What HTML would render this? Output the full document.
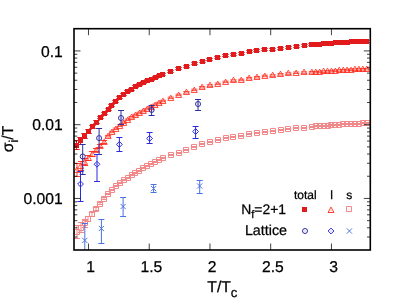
<!DOCTYPE html>
<html><head><meta charset="utf-8"><title>plot</title>
<style>html,body{margin:0;padding:0;background:#fff;}body{width:399px;height:302px;overflow:hidden;font-family:"Liberation Sans",sans-serif;}svg{display:block;text-rendering:geometricPrecision;will-change:transform;}</style>
</head><body>
<svg width="399" height="302" viewBox="0 0 399 302" font-family="'Liberation Sans', sans-serif" fill="#000">
<style>text{stroke:#000;stroke-width:0.25px;}</style>
<rect width="399" height="302" fill="#fff"/>
<defs><clipPath id="c"><rect x="74.0" y="28.7" width="296.3" height="221.3"/></clipPath></defs>
<g clip-path="url(#c)">
<path d="M73.30 140.50H79.70M73.30 149.50H79.70M76.50 140.50V149.50" stroke="#e31a1c" stroke-width="1.0" fill="none"/><rect x="74.00" y="143.00" width="5.0" height="5.0" fill="#e31a1c"/><path d="M77.30 137.50H83.70M77.30 144.50H83.70M80.50 137.50V144.50" stroke="#e31a1c" stroke-width="1.0" fill="none"/><rect x="78.00" y="138.00" width="5.0" height="5.0" fill="#e31a1c"/><path d="M81.30 133.50H87.70M81.30 138.50H87.70M84.50 133.50V138.50" stroke="#e31a1c" stroke-width="1.0" fill="none"/><rect x="82.00" y="134.00" width="5.0" height="5.0" fill="#e31a1c"/><path d="M85.30 129.50H91.70M85.30 133.50H91.70M88.50 129.50V133.50" stroke="#e31a1c" stroke-width="1.0" fill="none"/><rect x="86.00" y="129.00" width="5.0" height="5.0" fill="#e31a1c"/><path d="M89.30 125.50H95.70M89.30 128.50H95.70M92.50 125.50V128.50" stroke="#e31a1c" stroke-width="1.0" fill="none"/><rect x="90.00" y="124.00" width="5.0" height="5.0" fill="#e31a1c"/><path d="M93.30 120.50H99.70M93.30 123.50H99.70M96.50 120.50V123.50" stroke="#e31a1c" stroke-width="1.0" fill="none"/><rect x="94.00" y="120.00" width="5.0" height="5.0" fill="#e31a1c"/><path d="M97.30 116.50H103.70M97.30 118.50H103.70M100.50 116.50V118.50" stroke="#e31a1c" stroke-width="1.0" fill="none"/><rect x="98.00" y="115.00" width="5.0" height="5.0" fill="#e31a1c"/><path d="M101.30 112.50H107.70M101.30 114.50H107.70" stroke="#e31a1c" stroke-width="1.0" fill="none"/><rect x="102.00" y="111.00" width="5.0" height="5.0" fill="#e31a1c"/><path d="M105.30 108.50H111.70M105.30 110.50H111.70" stroke="#e31a1c" stroke-width="1.0" fill="none"/><rect x="106.00" y="107.00" width="5.0" height="5.0" fill="#e31a1c"/><path d="M108.30 104.50H114.70M108.30 106.50H114.70" stroke="#e31a1c" stroke-width="1.0" fill="none"/><rect x="109.00" y="103.00" width="5.0" height="5.0" fill="#e31a1c"/><path d="M112.30 100.50H118.70M112.30 102.50H118.70" stroke="#e31a1c" stroke-width="1.0" fill="none"/><rect x="113.00" y="99.00" width="5.0" height="5.0" fill="#e31a1c"/><path d="M116.30 96.50H122.70M116.30 98.50H122.70" stroke="#e31a1c" stroke-width="1.0" fill="none"/><rect x="117.00" y="95.00" width="5.0" height="5.0" fill="#e31a1c"/><path d="M120.30 93.50H126.70M120.30 95.50H126.70" stroke="#e31a1c" stroke-width="1.0" fill="none"/><rect x="121.00" y="92.00" width="5.0" height="5.0" fill="#e31a1c"/><path d="M124.30 90.50H130.70M124.30 92.50H130.70" stroke="#e31a1c" stroke-width="1.0" fill="none"/><rect x="125.00" y="89.00" width="5.0" height="5.0" fill="#e31a1c"/><path d="M128.30 88.50H134.70M128.30 90.50H134.70" stroke="#e31a1c" stroke-width="1.0" fill="none"/><rect x="129.00" y="87.00" width="5.0" height="5.0" fill="#e31a1c"/><path d="M132.30 85.50H138.70M132.30 87.50H138.70" stroke="#e31a1c" stroke-width="1.0" fill="none"/><rect x="133.00" y="84.00" width="5.0" height="5.0" fill="#e31a1c"/><path d="M136.30 83.50H142.70M136.30 85.50H142.70" stroke="#e31a1c" stroke-width="1.0" fill="none"/><rect x="137.00" y="82.00" width="5.0" height="5.0" fill="#e31a1c"/><path d="M140.30 81.50H146.70M140.30 83.50H146.70" stroke="#e31a1c" stroke-width="1.0" fill="none"/><rect x="141.00" y="80.00" width="5.0" height="5.0" fill="#e31a1c"/><path d="M144.30 79.50H150.70M144.30 81.50H150.70" stroke="#e31a1c" stroke-width="1.0" fill="none"/><rect x="145.00" y="78.00" width="5.0" height="5.0" fill="#e31a1c"/><path d="M148.30 78.50H154.70M148.30 80.50H154.70" stroke="#e31a1c" stroke-width="1.0" fill="none"/><rect x="149.00" y="77.00" width="5.0" height="5.0" fill="#e31a1c"/><path d="M152.30 76.50H158.70M152.30 78.50H158.70" stroke="#e31a1c" stroke-width="1.0" fill="none"/><rect x="153.00" y="75.00" width="5.0" height="5.0" fill="#e31a1c"/><path d="M156.30 74.50H162.70M156.30 76.50H162.70" stroke="#e31a1c" stroke-width="1.0" fill="none"/><rect x="157.00" y="73.00" width="5.0" height="5.0" fill="#e31a1c"/><path d="M159.30 73.50H165.70M159.30 75.50H165.70" stroke="#e31a1c" stroke-width="1.0" fill="none"/><rect x="160.00" y="72.00" width="5.0" height="5.0" fill="#e31a1c"/><path d="M167.30 70.50H173.70M167.30 72.50H173.70" stroke="#e31a1c" stroke-width="1.0" fill="none"/><rect x="168.00" y="69.00" width="5.0" height="5.0" fill="#e31a1c"/><path d="M175.30 67.50H181.70M175.30 69.50H181.70" stroke="#e31a1c" stroke-width="1.0" fill="none"/><rect x="176.00" y="66.00" width="5.0" height="5.0" fill="#e31a1c"/><path d="M183.30 65.50H189.70M183.30 67.50H189.70" stroke="#e31a1c" stroke-width="1.0" fill="none"/><rect x="184.00" y="64.00" width="5.0" height="5.0" fill="#e31a1c"/><path d="M191.30 62.50H197.70M191.30 64.50H197.70" stroke="#e31a1c" stroke-width="1.0" fill="none"/><rect x="192.00" y="61.00" width="5.0" height="5.0" fill="#e31a1c"/><path d="M199.30 60.50H205.70M199.30 62.50H205.70" stroke="#e31a1c" stroke-width="1.0" fill="none"/><rect x="200.00" y="59.00" width="5.0" height="5.0" fill="#e31a1c"/><path d="M206.30 58.50H212.70M206.30 60.50H212.70" stroke="#e31a1c" stroke-width="1.0" fill="none"/><rect x="207.00" y="57.00" width="5.0" height="5.0" fill="#e31a1c"/><path d="M214.30 56.50H220.70M214.30 58.50H220.70" stroke="#e31a1c" stroke-width="1.0" fill="none"/><rect x="215.00" y="55.00" width="5.0" height="5.0" fill="#e31a1c"/><path d="M222.30 54.50H228.70M222.30 56.50H228.70" stroke="#e31a1c" stroke-width="1.0" fill="none"/><rect x="223.00" y="53.00" width="5.0" height="5.0" fill="#e31a1c"/><path d="M230.30 53.50H236.70M230.30 55.50H236.70" stroke="#e31a1c" stroke-width="1.0" fill="none"/><rect x="231.00" y="52.00" width="5.0" height="5.0" fill="#e31a1c"/><path d="M238.30 52.50H244.70M238.30 54.50H244.70" stroke="#e31a1c" stroke-width="1.0" fill="none"/><rect x="239.00" y="51.00" width="5.0" height="5.0" fill="#e31a1c"/><path d="M246.30 50.50H252.70M246.30 52.50H252.70" stroke="#e31a1c" stroke-width="1.0" fill="none"/><rect x="247.00" y="49.00" width="5.0" height="5.0" fill="#e31a1c"/><path d="M253.30 49.50H259.70M253.30 51.50H259.70" stroke="#e31a1c" stroke-width="1.0" fill="none"/><rect x="254.00" y="48.00" width="5.0" height="5.0" fill="#e31a1c"/><path d="M261.30 48.50H267.70M261.30 50.50H267.70" stroke="#e31a1c" stroke-width="1.0" fill="none"/><rect x="262.00" y="47.00" width="5.0" height="5.0" fill="#e31a1c"/><path d="M269.30 48.50H275.70M269.30 50.50H275.70" stroke="#e31a1c" stroke-width="1.0" fill="none"/><rect x="270.00" y="47.00" width="5.0" height="5.0" fill="#e31a1c"/><path d="M277.30 47.50H283.70M277.30 49.50H283.70" stroke="#e31a1c" stroke-width="1.0" fill="none"/><rect x="278.00" y="46.00" width="5.0" height="5.0" fill="#e31a1c"/><path d="M285.30 46.50H291.70M285.30 48.50H291.70" stroke="#e31a1c" stroke-width="1.0" fill="none"/><rect x="286.00" y="45.00" width="5.0" height="5.0" fill="#e31a1c"/><path d="M293.30 45.50H299.70M293.30 47.50H299.70" stroke="#e31a1c" stroke-width="1.0" fill="none"/><rect x="294.00" y="44.00" width="5.0" height="5.0" fill="#e31a1c"/><path d="M301.30 44.50H307.70M301.30 46.50H307.70" stroke="#e31a1c" stroke-width="1.0" fill="none"/><rect x="302.00" y="43.00" width="5.0" height="5.0" fill="#e31a1c"/><path d="M308.30 43.50H314.70M308.30 45.50H314.70" stroke="#e31a1c" stroke-width="1.0" fill="none"/><rect x="309.00" y="42.00" width="5.0" height="5.0" fill="#e31a1c"/><path d="M312.30 43.50H318.70M312.30 45.50H318.70" stroke="#e31a1c" stroke-width="1.0" fill="none"/><rect x="313.00" y="42.00" width="5.0" height="5.0" fill="#e31a1c"/><path d="M316.30 43.50H322.70M316.30 45.50H322.70" stroke="#e31a1c" stroke-width="1.0" fill="none"/><rect x="317.00" y="42.00" width="5.0" height="5.0" fill="#e31a1c"/><path d="M320.30 42.50H326.70M320.30 44.50H326.70" stroke="#e31a1c" stroke-width="1.0" fill="none"/><rect x="321.00" y="41.00" width="5.0" height="5.0" fill="#e31a1c"/><path d="M324.30 42.50H330.70M324.30 44.50H330.70" stroke="#e31a1c" stroke-width="1.0" fill="none"/><rect x="325.00" y="41.00" width="5.0" height="5.0" fill="#e31a1c"/><path d="M328.30 42.50H334.70M328.30 44.50H334.70" stroke="#e31a1c" stroke-width="1.0" fill="none"/><rect x="329.00" y="41.00" width="5.0" height="5.0" fill="#e31a1c"/><path d="M332.30 41.50H338.70M332.30 43.50H338.70" stroke="#e31a1c" stroke-width="1.0" fill="none"/><rect x="333.00" y="40.00" width="5.0" height="5.0" fill="#e31a1c"/><path d="M336.30 41.50H342.70M336.30 43.50H342.70" stroke="#e31a1c" stroke-width="1.0" fill="none"/><rect x="337.00" y="40.00" width="5.0" height="5.0" fill="#e31a1c"/><path d="M340.30 41.50H346.70M340.30 43.50H346.70" stroke="#e31a1c" stroke-width="1.0" fill="none"/><rect x="341.00" y="40.00" width="5.0" height="5.0" fill="#e31a1c"/><path d="M344.30 41.50H350.70M344.30 43.50H350.70" stroke="#e31a1c" stroke-width="1.0" fill="none"/><rect x="345.00" y="40.00" width="5.0" height="5.0" fill="#e31a1c"/><path d="M348.30 40.50H354.70M348.30 42.50H354.70" stroke="#e31a1c" stroke-width="1.0" fill="none"/><rect x="349.00" y="39.00" width="5.0" height="5.0" fill="#e31a1c"/><path d="M351.30 40.50H357.70M351.30 42.50H357.70" stroke="#e31a1c" stroke-width="1.0" fill="none"/><rect x="352.00" y="39.00" width="5.0" height="5.0" fill="#e31a1c"/><path d="M355.30 40.50H361.70M355.30 42.50H361.70" stroke="#e31a1c" stroke-width="1.0" fill="none"/><rect x="356.00" y="39.00" width="5.0" height="5.0" fill="#e31a1c"/><path d="M359.30 40.50H365.70M359.30 42.50H365.70" stroke="#e31a1c" stroke-width="1.0" fill="none"/><rect x="360.00" y="39.00" width="5.0" height="5.0" fill="#e31a1c"/><path d="M363.30 40.50H369.70M363.30 42.50H369.70" stroke="#e31a1c" stroke-width="1.0" fill="none"/><rect x="364.00" y="39.00" width="5.0" height="5.0" fill="#e31a1c"/>
<path d="M73.90 163.50H80.10M73.90 176.50H80.10M77.00 163.50V176.50" stroke="#ff2a1a" stroke-width="0.9" fill="none"/><path d="M76.71 167.10L79.71 172.50H73.71Z" stroke="#ff2a1a" stroke-width="0.8" fill="none" stroke-linejoin="miter"/><path d="M77.90 161.50H84.10M77.90 170.50H84.10M81.00 161.50V170.50" stroke="#ff2a1a" stroke-width="0.9" fill="none"/><path d="M80.63 163.10L83.63 168.50H77.63Z" stroke="#ff2a1a" stroke-width="0.8" fill="none" stroke-linejoin="miter"/><path d="M81.90 158.50H88.10M81.90 165.50H88.10M85.00 158.50V165.50" stroke="#ff2a1a" stroke-width="0.9" fill="none"/><path d="M84.55 159.10L87.55 164.50H81.55Z" stroke="#ff2a1a" stroke-width="0.8" fill="none" stroke-linejoin="miter"/><path d="M84.90 155.50H91.10M84.90 160.50H91.10M88.00 155.50V160.50" stroke="#ff2a1a" stroke-width="0.9" fill="none"/><path d="M88.47 155.10L91.47 160.50H85.47Z" stroke="#ff2a1a" stroke-width="0.8" fill="none" stroke-linejoin="miter"/><path d="M88.90 151.50H95.10M88.90 156.50H95.10M92.00 151.50V156.50" stroke="#ff2a1a" stroke-width="0.9" fill="none"/><path d="M92.39 151.10L95.39 156.50H89.39Z" stroke="#ff2a1a" stroke-width="0.8" fill="none" stroke-linejoin="miter"/><path d="M92.90 148.50H99.10M92.90 151.50H99.10M96.00 148.50V151.50" stroke="#ff2a1a" stroke-width="0.9" fill="none"/><path d="M96.31 147.10L99.31 152.50H93.31Z" stroke="#ff2a1a" stroke-width="0.8" fill="none" stroke-linejoin="miter"/><path d="M96.90 144.50H103.10M96.90 147.50H103.10M100.00 144.50V147.50" stroke="#ff2a1a" stroke-width="0.9" fill="none"/><path d="M100.23 143.10L103.23 148.50H97.23Z" stroke="#ff2a1a" stroke-width="0.8" fill="none" stroke-linejoin="miter"/><path d="M100.90 140.50H107.10M100.90 143.50H107.10M104.00 140.50V143.50" stroke="#ff2a1a" stroke-width="0.9" fill="none"/><path d="M104.15 139.10L107.15 144.50H101.15Z" stroke="#ff2a1a" stroke-width="0.8" fill="none" stroke-linejoin="miter"/><path d="M104.97 135.46H111.17M104.97 136.96H111.17" stroke="#ff2a1a" stroke-width="0.8" fill="none"/><path d="M108.07 133.10L111.07 138.50H105.07Z" stroke="#ff2a1a" stroke-width="0.8" fill="none" stroke-linejoin="miter"/><path d="M108.88 131.22H115.08M108.88 132.72H115.08" stroke="#ff2a1a" stroke-width="0.8" fill="none"/><path d="M111.98 129.10L114.98 134.50H108.98Z" stroke="#ff2a1a" stroke-width="0.8" fill="none" stroke-linejoin="miter"/><path d="M112.80 128.04H119.00M112.80 129.54H119.00" stroke="#ff2a1a" stroke-width="0.8" fill="none"/><path d="M115.90 126.10L118.90 131.50H112.90Z" stroke="#ff2a1a" stroke-width="0.8" fill="none" stroke-linejoin="miter"/><path d="M116.72 124.99H122.92M116.72 126.49H122.92" stroke="#ff2a1a" stroke-width="0.8" fill="none"/><path d="M119.82 123.10L122.82 128.50H116.82Z" stroke="#ff2a1a" stroke-width="0.8" fill="none" stroke-linejoin="miter"/><path d="M120.64 122.04H126.84M120.64 123.54H126.84" stroke="#ff2a1a" stroke-width="0.8" fill="none"/><path d="M123.74 120.10L126.74 125.50H120.74Z" stroke="#ff2a1a" stroke-width="0.8" fill="none" stroke-linejoin="miter"/><path d="M124.56 119.09H130.76M124.56 120.59H130.76" stroke="#ff2a1a" stroke-width="0.8" fill="none"/><path d="M127.66 117.10L130.66 122.50H124.66Z" stroke="#ff2a1a" stroke-width="0.8" fill="none" stroke-linejoin="miter"/><path d="M128.48 116.50H134.68M128.48 118.00H134.68" stroke="#ff2a1a" stroke-width="0.8" fill="none"/><path d="M131.58 114.10L134.58 119.50H128.58Z" stroke="#ff2a1a" stroke-width="0.8" fill="none" stroke-linejoin="miter"/><path d="M132.40 114.30H138.60M132.40 115.80H138.60" stroke="#ff2a1a" stroke-width="0.8" fill="none"/><path d="M135.50 112.10L138.50 117.50H132.50Z" stroke="#ff2a1a" stroke-width="0.8" fill="none" stroke-linejoin="miter"/><path d="M136.32 112.24H142.52M136.32 113.74H142.52" stroke="#ff2a1a" stroke-width="0.8" fill="none"/><path d="M139.42 110.10L142.42 115.50H136.42Z" stroke="#ff2a1a" stroke-width="0.8" fill="none" stroke-linejoin="miter"/><path d="M140.24 110.28H146.44M140.24 111.78H146.44" stroke="#ff2a1a" stroke-width="0.8" fill="none"/><path d="M143.34 108.10L146.34 113.50H140.34Z" stroke="#ff2a1a" stroke-width="0.8" fill="none" stroke-linejoin="miter"/><path d="M144.16 108.32H150.36M144.16 109.82H150.36" stroke="#ff2a1a" stroke-width="0.8" fill="none"/><path d="M147.26 106.10L150.26 111.50H144.26Z" stroke="#ff2a1a" stroke-width="0.8" fill="none" stroke-linejoin="miter"/><path d="M148.07 106.37H154.27M148.07 107.87H154.27" stroke="#ff2a1a" stroke-width="0.8" fill="none"/><path d="M151.17 104.10L154.17 109.50H148.17Z" stroke="#ff2a1a" stroke-width="0.8" fill="none" stroke-linejoin="miter"/><path d="M151.99 104.20H158.19M151.99 105.70H158.19" stroke="#ff2a1a" stroke-width="0.8" fill="none"/><path d="M155.09 102.10L158.09 107.50H152.09Z" stroke="#ff2a1a" stroke-width="0.8" fill="none" stroke-linejoin="miter"/><path d="M155.91 102.24H162.11M155.91 103.74H162.11" stroke="#ff2a1a" stroke-width="0.8" fill="none"/><path d="M159.01 100.10L162.01 105.50H156.01Z" stroke="#ff2a1a" stroke-width="0.8" fill="none" stroke-linejoin="miter"/><path d="M159.83 100.28H166.03M159.83 101.78H166.03" stroke="#ff2a1a" stroke-width="0.8" fill="none"/><path d="M162.93 98.10L165.93 103.50H159.93Z" stroke="#ff2a1a" stroke-width="0.8" fill="none" stroke-linejoin="miter"/><path d="M167.67 97.11H173.87M167.67 98.61H173.87" stroke="#ff2a1a" stroke-width="0.8" fill="none"/><path d="M170.77 95.10L173.77 100.50H167.77Z" stroke="#ff2a1a" stroke-width="0.8" fill="none" stroke-linejoin="miter"/><path d="M175.51 94.18H181.71M175.51 95.68H181.71" stroke="#ff2a1a" stroke-width="0.8" fill="none"/><path d="M178.61 92.10L181.61 97.50H175.61Z" stroke="#ff2a1a" stroke-width="0.8" fill="none" stroke-linejoin="miter"/><path d="M183.35 91.51H189.55M183.35 93.01H189.55" stroke="#ff2a1a" stroke-width="0.8" fill="none"/><path d="M186.45 89.10L189.45 94.50H183.45Z" stroke="#ff2a1a" stroke-width="0.8" fill="none" stroke-linejoin="miter"/><path d="M191.18 89.16H197.38M191.18 90.66H197.38" stroke="#ff2a1a" stroke-width="0.8" fill="none"/><path d="M194.28 87.10L197.28 92.50H191.28Z" stroke="#ff2a1a" stroke-width="0.8" fill="none" stroke-linejoin="miter"/><path d="M199.02 86.51H205.22M199.02 88.01H205.22" stroke="#ff2a1a" stroke-width="0.8" fill="none"/><path d="M202.12 84.10L205.12 89.50H199.12Z" stroke="#ff2a1a" stroke-width="0.8" fill="none" stroke-linejoin="miter"/><path d="M206.86 84.77H213.06M206.86 86.27H213.06" stroke="#ff2a1a" stroke-width="0.8" fill="none"/><path d="M209.96 82.10L212.96 87.50H206.96Z" stroke="#ff2a1a" stroke-width="0.8" fill="none" stroke-linejoin="miter"/><path d="M214.70 83.16H220.90M214.70 84.66H220.90" stroke="#ff2a1a" stroke-width="0.8" fill="none"/><path d="M217.80 81.10L220.80 86.50H214.80Z" stroke="#ff2a1a" stroke-width="0.8" fill="none" stroke-linejoin="miter"/><path d="M222.54 81.16H228.74M222.54 82.66H228.74" stroke="#ff2a1a" stroke-width="0.8" fill="none"/><path d="M225.64 79.10L228.64 84.50H222.64Z" stroke="#ff2a1a" stroke-width="0.8" fill="none" stroke-linejoin="miter"/><path d="M230.37 79.80H236.57M230.37 81.30H236.57" stroke="#ff2a1a" stroke-width="0.8" fill="none"/><path d="M233.47 77.10L236.47 82.50H230.47Z" stroke="#ff2a1a" stroke-width="0.8" fill="none" stroke-linejoin="miter"/><path d="M238.21 79.21H244.41M238.21 80.71H244.41" stroke="#ff2a1a" stroke-width="0.8" fill="none"/><path d="M241.31 77.10L244.31 82.50H238.31Z" stroke="#ff2a1a" stroke-width="0.8" fill="none" stroke-linejoin="miter"/><path d="M246.05 77.43H252.25M246.05 78.93H252.25" stroke="#ff2a1a" stroke-width="0.8" fill="none"/><path d="M249.15 75.10L252.15 80.50H246.15Z" stroke="#ff2a1a" stroke-width="0.8" fill="none" stroke-linejoin="miter"/><path d="M253.89 76.49H260.09M253.89 77.99H260.09" stroke="#ff2a1a" stroke-width="0.8" fill="none"/><path d="M256.99 74.10L259.99 79.50H253.99Z" stroke="#ff2a1a" stroke-width="0.8" fill="none" stroke-linejoin="miter"/><path d="M261.73 75.22H267.93M261.73 76.72H267.93" stroke="#ff2a1a" stroke-width="0.8" fill="none"/><path d="M264.83 73.10L267.83 78.50H261.83Z" stroke="#ff2a1a" stroke-width="0.8" fill="none" stroke-linejoin="miter"/><path d="M269.56 74.79H275.76M269.56 76.29H275.76" stroke="#ff2a1a" stroke-width="0.8" fill="none"/><path d="M272.66 72.10L275.66 77.50H269.66Z" stroke="#ff2a1a" stroke-width="0.8" fill="none" stroke-linejoin="miter"/><path d="M277.40 73.59H283.60M277.40 75.09H283.60" stroke="#ff2a1a" stroke-width="0.8" fill="none"/><path d="M280.50 71.10L283.50 76.50H277.50Z" stroke="#ff2a1a" stroke-width="0.8" fill="none" stroke-linejoin="miter"/><path d="M285.24 72.81H291.44M285.24 74.31H291.44" stroke="#ff2a1a" stroke-width="0.8" fill="none"/><path d="M288.34 70.10L291.34 75.50H285.34Z" stroke="#ff2a1a" stroke-width="0.8" fill="none" stroke-linejoin="miter"/><path d="M293.08 72.03H299.28M293.08 73.53H299.28" stroke="#ff2a1a" stroke-width="0.8" fill="none"/><path d="M296.18 70.10L299.18 75.50H293.18Z" stroke="#ff2a1a" stroke-width="0.8" fill="none" stroke-linejoin="miter"/><path d="M300.92 71.84H307.12M300.92 73.34H307.12" stroke="#ff2a1a" stroke-width="0.8" fill="none"/><path d="M304.02 69.10L307.02 74.50H301.02Z" stroke="#ff2a1a" stroke-width="0.8" fill="none" stroke-linejoin="miter"/><path d="M308.75 71.58H314.95M308.75 73.08H314.95" stroke="#ff2a1a" stroke-width="0.8" fill="none"/><path d="M311.85 69.10L314.85 74.50H308.85Z" stroke="#ff2a1a" stroke-width="0.8" fill="none" stroke-linejoin="miter"/><path d="M312.67 71.41H318.87M312.67 72.91H318.87" stroke="#ff2a1a" stroke-width="0.8" fill="none"/><path d="M315.77 69.10L318.77 74.50H312.77Z" stroke="#ff2a1a" stroke-width="0.8" fill="none" stroke-linejoin="miter"/><path d="M316.59 71.18H322.79M316.59 72.68H322.79" stroke="#ff2a1a" stroke-width="0.8" fill="none"/><path d="M319.69 69.10L322.69 74.50H316.69Z" stroke="#ff2a1a" stroke-width="0.8" fill="none" stroke-linejoin="miter"/><path d="M320.51 70.89H326.71M320.51 72.39H326.71" stroke="#ff2a1a" stroke-width="0.8" fill="none"/><path d="M323.61 68.10L326.61 73.50H320.61Z" stroke="#ff2a1a" stroke-width="0.8" fill="none" stroke-linejoin="miter"/><path d="M324.43 70.61H330.63M324.43 72.11H330.63" stroke="#ff2a1a" stroke-width="0.8" fill="none"/><path d="M327.53 68.10L330.53 73.50H324.53Z" stroke="#ff2a1a" stroke-width="0.8" fill="none" stroke-linejoin="miter"/><path d="M328.35 70.33H334.55M328.35 71.83H334.55" stroke="#ff2a1a" stroke-width="0.8" fill="none"/><path d="M331.45 68.10L334.45 73.50H328.45Z" stroke="#ff2a1a" stroke-width="0.8" fill="none" stroke-linejoin="miter"/><path d="M332.27 70.03H338.47M332.27 71.53H338.47" stroke="#ff2a1a" stroke-width="0.8" fill="none"/><path d="M335.37 68.10L338.37 73.50H332.37Z" stroke="#ff2a1a" stroke-width="0.8" fill="none" stroke-linejoin="miter"/><path d="M336.19 69.76H342.39M336.19 71.26H342.39" stroke="#ff2a1a" stroke-width="0.8" fill="none"/><path d="M339.29 67.10L342.29 72.50H336.29Z" stroke="#ff2a1a" stroke-width="0.8" fill="none" stroke-linejoin="miter"/><path d="M340.11 69.52H346.31M340.11 71.02H346.31" stroke="#ff2a1a" stroke-width="0.8" fill="none"/><path d="M343.21 67.10L346.21 72.50H340.21Z" stroke="#ff2a1a" stroke-width="0.8" fill="none" stroke-linejoin="miter"/><path d="M344.03 69.29H350.23M344.03 70.79H350.23" stroke="#ff2a1a" stroke-width="0.8" fill="none"/><path d="M347.13 67.10L350.13 72.50H344.13Z" stroke="#ff2a1a" stroke-width="0.8" fill="none" stroke-linejoin="miter"/><path d="M347.95 69.08H354.15M347.95 70.58H354.15" stroke="#ff2a1a" stroke-width="0.8" fill="none"/><path d="M351.05 67.10L354.05 72.50H348.05Z" stroke="#ff2a1a" stroke-width="0.8" fill="none" stroke-linejoin="miter"/><path d="M351.86 68.88H358.06M351.86 70.38H358.06" stroke="#ff2a1a" stroke-width="0.8" fill="none"/><path d="M354.96 66.10L357.96 71.50H351.96Z" stroke="#ff2a1a" stroke-width="0.8" fill="none" stroke-linejoin="miter"/><path d="M355.78 68.70H361.98M355.78 70.20H361.98" stroke="#ff2a1a" stroke-width="0.8" fill="none"/><path d="M358.88 66.10L361.88 71.50H355.88Z" stroke="#ff2a1a" stroke-width="0.8" fill="none" stroke-linejoin="miter"/><path d="M359.70 68.54H365.90M359.70 70.04H365.90" stroke="#ff2a1a" stroke-width="0.8" fill="none"/><path d="M362.80 66.10L365.80 71.50H359.80Z" stroke="#ff2a1a" stroke-width="0.8" fill="none" stroke-linejoin="miter"/><path d="M363.62 68.39H369.82M363.62 69.89H369.82" stroke="#ff2a1a" stroke-width="0.8" fill="none"/><path d="M366.72 66.10L369.72 71.50H363.72Z" stroke="#ff2a1a" stroke-width="0.8" fill="none" stroke-linejoin="miter"/>
<path d="M73.90 225.50H80.10M73.90 238.50H80.10M77.00 225.50V238.50" stroke="#f18889" stroke-width="1.0" fill="none"/><path d="M74.50 229.50h5.0v5.0h-5.0Z" stroke="#f18889" stroke-width="1.0" fill="none"/><path d="M77.90 222.50H84.10M77.90 232.50H84.10M81.00 222.50V232.50" stroke="#f18889" stroke-width="1.0" fill="none"/><path d="M78.50 225.50h5.0v5.0h-5.0Z" stroke="#f18889" stroke-width="1.0" fill="none"/><path d="M81.90 219.50H88.10M81.90 227.50H88.10M85.00 219.50V227.50" stroke="#f18889" stroke-width="1.0" fill="none"/><path d="M82.50 220.50h5.0v5.0h-5.0Z" stroke="#f18889" stroke-width="1.0" fill="none"/><path d="M84.90 216.50H91.10M84.90 221.50H91.10M88.00 216.50V221.50" stroke="#f18889" stroke-width="1.0" fill="none"/><path d="M85.50 216.50h5.0v5.0h-5.0Z" stroke="#f18889" stroke-width="1.0" fill="none"/><path d="M88.90 212.50H95.10M88.90 216.50H95.10M92.00 212.50V216.50" stroke="#f18889" stroke-width="1.0" fill="none"/><path d="M89.50 211.50h5.0v5.0h-5.0Z" stroke="#f18889" stroke-width="1.0" fill="none"/><path d="M92.90 207.50H99.10M92.90 210.50H99.10M96.00 207.50V210.50" stroke="#f18889" stroke-width="1.0" fill="none"/><path d="M93.50 206.50h5.0v5.0h-5.0Z" stroke="#f18889" stroke-width="1.0" fill="none"/><path d="M96.90 202.50H103.10M96.90 204.50H103.10M100.00 202.50V204.50" stroke="#f18889" stroke-width="1.0" fill="none"/><path d="M97.50 201.50h5.0v5.0h-5.0Z" stroke="#f18889" stroke-width="1.0" fill="none"/><path d="M100.90 197.50H107.10M100.90 199.50H107.10M104.00 197.50V199.50" stroke="#f18889" stroke-width="1.0" fill="none"/><path d="M101.50 196.50h5.0v5.0h-5.0Z" stroke="#f18889" stroke-width="1.0" fill="none"/><path d="M104.90 193.50H111.10M104.90 194.50H111.10" stroke="#f18889" stroke-width="1.0" fill="none"/><path d="M105.50 191.50h5.0v5.0h-5.0Z" stroke="#f18889" stroke-width="1.0" fill="none"/><path d="M108.90 189.50H115.10M108.90 190.50H115.10" stroke="#f18889" stroke-width="1.0" fill="none"/><path d="M109.50 187.50h5.0v5.0h-5.0Z" stroke="#f18889" stroke-width="1.0" fill="none"/><path d="M112.90 185.50H119.10M112.90 186.50H119.10" stroke="#f18889" stroke-width="1.0" fill="none"/><path d="M113.50 183.50h5.0v5.0h-5.0Z" stroke="#f18889" stroke-width="1.0" fill="none"/><path d="M116.90 182.50H123.10M116.90 183.50H123.10" stroke="#f18889" stroke-width="1.0" fill="none"/><path d="M117.50 180.50h5.0v5.0h-5.0Z" stroke="#f18889" stroke-width="1.0" fill="none"/><path d="M120.90 179.50H127.10M120.90 180.50H127.10" stroke="#f18889" stroke-width="1.0" fill="none"/><path d="M121.50 177.50h5.0v5.0h-5.0Z" stroke="#f18889" stroke-width="1.0" fill="none"/><path d="M124.90 177.50H131.10M124.90 178.50H131.10" stroke="#f18889" stroke-width="1.0" fill="none"/><path d="M125.50 175.50h5.0v5.0h-5.0Z" stroke="#f18889" stroke-width="1.0" fill="none"/><path d="M128.90 174.50H135.10M128.90 175.50H135.10" stroke="#f18889" stroke-width="1.0" fill="none"/><path d="M129.50 172.50h5.0v5.0h-5.0Z" stroke="#f18889" stroke-width="1.0" fill="none"/><path d="M131.90 172.50H138.10M131.90 173.50H138.10" stroke="#f18889" stroke-width="1.0" fill="none"/><path d="M132.50 170.50h5.0v5.0h-5.0Z" stroke="#f18889" stroke-width="1.0" fill="none"/><path d="M135.90 170.50H142.10M135.90 171.50H142.10" stroke="#f18889" stroke-width="1.0" fill="none"/><path d="M136.50 168.50h5.0v5.0h-5.0Z" stroke="#f18889" stroke-width="1.0" fill="none"/><path d="M139.90 167.50H146.10M139.90 168.50H146.10" stroke="#f18889" stroke-width="1.0" fill="none"/><path d="M140.50 165.50h5.0v5.0h-5.0Z" stroke="#f18889" stroke-width="1.0" fill="none"/><path d="M143.90 165.50H150.10M143.90 166.50H150.10" stroke="#f18889" stroke-width="1.0" fill="none"/><path d="M144.50 163.50h5.0v5.0h-5.0Z" stroke="#f18889" stroke-width="1.0" fill="none"/><path d="M147.90 163.50H154.10M147.90 164.50H154.10" stroke="#f18889" stroke-width="1.0" fill="none"/><path d="M148.50 161.50h5.0v5.0h-5.0Z" stroke="#f18889" stroke-width="1.0" fill="none"/><path d="M151.90 161.50H158.10M151.90 162.50H158.10" stroke="#f18889" stroke-width="1.0" fill="none"/><path d="M152.50 159.50h5.0v5.0h-5.0Z" stroke="#f18889" stroke-width="1.0" fill="none"/><path d="M155.90 159.50H162.10M155.90 160.50H162.10" stroke="#f18889" stroke-width="1.0" fill="none"/><path d="M156.50 157.50h5.0v5.0h-5.0Z" stroke="#f18889" stroke-width="1.0" fill="none"/><path d="M159.90 157.50H166.10M159.90 158.50H166.10" stroke="#f18889" stroke-width="1.0" fill="none"/><path d="M160.50 155.50h5.0v5.0h-5.0Z" stroke="#f18889" stroke-width="1.0" fill="none"/><path d="M167.90 154.50H174.10M167.90 155.50H174.10" stroke="#f18889" stroke-width="1.0" fill="none"/><path d="M168.50 152.50h5.0v5.0h-5.0Z" stroke="#f18889" stroke-width="1.0" fill="none"/><path d="M175.90 152.50H182.10M175.90 153.50H182.10" stroke="#f18889" stroke-width="1.0" fill="none"/><path d="M176.50 150.50h5.0v5.0h-5.0Z" stroke="#f18889" stroke-width="1.0" fill="none"/><path d="M182.90 149.50H189.10M182.90 150.50H189.10" stroke="#f18889" stroke-width="1.0" fill="none"/><path d="M183.50 147.50h5.0v5.0h-5.0Z" stroke="#f18889" stroke-width="1.0" fill="none"/><path d="M190.90 146.50H197.10M190.90 147.50H197.10" stroke="#f18889" stroke-width="1.0" fill="none"/><path d="M191.50 144.50h5.0v5.0h-5.0Z" stroke="#f18889" stroke-width="1.0" fill="none"/><path d="M198.90 143.50H205.10M198.90 144.50H205.10" stroke="#f18889" stroke-width="1.0" fill="none"/><path d="M199.50 141.50h5.0v5.0h-5.0Z" stroke="#f18889" stroke-width="1.0" fill="none"/><path d="M206.90 141.50H213.10M206.90 142.50H213.10" stroke="#f18889" stroke-width="1.0" fill="none"/><path d="M207.50 139.50h5.0v5.0h-5.0Z" stroke="#f18889" stroke-width="1.0" fill="none"/><path d="M214.90 139.50H221.10M214.90 140.50H221.10" stroke="#f18889" stroke-width="1.0" fill="none"/><path d="M215.50 137.50h5.0v5.0h-5.0Z" stroke="#f18889" stroke-width="1.0" fill="none"/><path d="M222.90 137.50H229.10M222.90 138.50H229.10" stroke="#f18889" stroke-width="1.0" fill="none"/><path d="M223.50 135.50h5.0v5.0h-5.0Z" stroke="#f18889" stroke-width="1.0" fill="none"/><path d="M229.90 136.50H236.10M229.90 137.50H236.10" stroke="#f18889" stroke-width="1.0" fill="none"/><path d="M230.50 134.50h5.0v5.0h-5.0Z" stroke="#f18889" stroke-width="1.0" fill="none"/><path d="M237.90 135.50H244.10M237.90 136.50H244.10" stroke="#f18889" stroke-width="1.0" fill="none"/><path d="M238.50 133.50h5.0v5.0h-5.0Z" stroke="#f18889" stroke-width="1.0" fill="none"/><path d="M245.90 133.50H252.10M245.90 134.50H252.10" stroke="#f18889" stroke-width="1.0" fill="none"/><path d="M246.50 131.50h5.0v5.0h-5.0Z" stroke="#f18889" stroke-width="1.0" fill="none"/><path d="M253.90 132.50H260.10M253.90 133.50H260.10" stroke="#f18889" stroke-width="1.0" fill="none"/><path d="M254.50 130.50h5.0v5.0h-5.0Z" stroke="#f18889" stroke-width="1.0" fill="none"/><path d="M261.90 131.50H268.10M261.90 132.50H268.10" stroke="#f18889" stroke-width="1.0" fill="none"/><path d="M262.50 129.50h5.0v5.0h-5.0Z" stroke="#f18889" stroke-width="1.0" fill="none"/><path d="M269.90 130.50H276.10M269.90 131.50H276.10" stroke="#f18889" stroke-width="1.0" fill="none"/><path d="M270.50 128.50h5.0v5.0h-5.0Z" stroke="#f18889" stroke-width="1.0" fill="none"/><path d="M277.90 129.50H284.10M277.90 130.50H284.10" stroke="#f18889" stroke-width="1.0" fill="none"/><path d="M278.50 127.50h5.0v5.0h-5.0Z" stroke="#f18889" stroke-width="1.0" fill="none"/><path d="M284.90 128.50H291.10M284.90 129.50H291.10" stroke="#f18889" stroke-width="1.0" fill="none"/><path d="M285.50 126.50h5.0v5.0h-5.0Z" stroke="#f18889" stroke-width="1.0" fill="none"/><path d="M292.90 127.50H299.10M292.90 128.50H299.10" stroke="#f18889" stroke-width="1.0" fill="none"/><path d="M293.50 125.50h5.0v5.0h-5.0Z" stroke="#f18889" stroke-width="1.0" fill="none"/><path d="M300.90 127.50H307.10M300.90 128.50H307.10" stroke="#f18889" stroke-width="1.0" fill="none"/><path d="M301.50 125.50h5.0v5.0h-5.0Z" stroke="#f18889" stroke-width="1.0" fill="none"/><path d="M308.90 126.50H315.10M308.90 127.50H315.10" stroke="#f18889" stroke-width="1.0" fill="none"/><path d="M309.50 124.50h5.0v5.0h-5.0Z" stroke="#f18889" stroke-width="1.0" fill="none"/><path d="M312.90 125.50H319.10M312.90 126.50H319.10" stroke="#f18889" stroke-width="1.0" fill="none"/><path d="M313.50 123.50h5.0v5.0h-5.0Z" stroke="#f18889" stroke-width="1.0" fill="none"/><path d="M316.90 125.50H323.10M316.90 126.50H323.10" stroke="#f18889" stroke-width="1.0" fill="none"/><path d="M317.50 123.50h5.0v5.0h-5.0Z" stroke="#f18889" stroke-width="1.0" fill="none"/><path d="M320.90 125.50H327.10M320.90 126.50H327.10" stroke="#f18889" stroke-width="1.0" fill="none"/><path d="M321.50 123.50h5.0v5.0h-5.0Z" stroke="#f18889" stroke-width="1.0" fill="none"/><path d="M324.90 125.50H331.10M324.90 126.50H331.10" stroke="#f18889" stroke-width="1.0" fill="none"/><path d="M325.50 123.50h5.0v5.0h-5.0Z" stroke="#f18889" stroke-width="1.0" fill="none"/><path d="M327.90 124.50H334.10M327.90 125.50H334.10" stroke="#f18889" stroke-width="1.0" fill="none"/><path d="M328.50 122.50h5.0v5.0h-5.0Z" stroke="#f18889" stroke-width="1.0" fill="none"/><path d="M331.90 124.50H338.10M331.90 125.50H338.10" stroke="#f18889" stroke-width="1.0" fill="none"/><path d="M332.50 122.50h5.0v5.0h-5.0Z" stroke="#f18889" stroke-width="1.0" fill="none"/><path d="M335.90 124.50H342.10M335.90 125.50H342.10" stroke="#f18889" stroke-width="1.0" fill="none"/><path d="M336.50 122.50h5.0v5.0h-5.0Z" stroke="#f18889" stroke-width="1.0" fill="none"/><path d="M339.90 123.50H346.10M339.90 124.50H346.10" stroke="#f18889" stroke-width="1.0" fill="none"/><path d="M340.50 121.50h5.0v5.0h-5.0Z" stroke="#f18889" stroke-width="1.0" fill="none"/><path d="M343.90 123.50H350.10M343.90 124.50H350.10" stroke="#f18889" stroke-width="1.0" fill="none"/><path d="M344.50 121.50h5.0v5.0h-5.0Z" stroke="#f18889" stroke-width="1.0" fill="none"/><path d="M347.90 123.50H354.10M347.90 124.50H354.10" stroke="#f18889" stroke-width="1.0" fill="none"/><path d="M348.50 121.50h5.0v5.0h-5.0Z" stroke="#f18889" stroke-width="1.0" fill="none"/><path d="M351.90 123.50H358.10M351.90 124.50H358.10" stroke="#f18889" stroke-width="1.0" fill="none"/><path d="M352.50 121.50h5.0v5.0h-5.0Z" stroke="#f18889" stroke-width="1.0" fill="none"/><path d="M355.90 123.50H362.10M355.90 124.50H362.10" stroke="#f18889" stroke-width="1.0" fill="none"/><path d="M356.50 121.50h5.0v5.0h-5.0Z" stroke="#f18889" stroke-width="1.0" fill="none"/><path d="M359.90 122.50H366.10M359.90 123.50H366.10" stroke="#f18889" stroke-width="1.0" fill="none"/><path d="M360.50 120.50h5.0v5.0h-5.0Z" stroke="#f18889" stroke-width="1.0" fill="none"/><path d="M363.90 122.50H370.10M363.90 123.50H370.10" stroke="#f18889" stroke-width="1.0" fill="none"/><path d="M364.50 120.50h5.0v5.0h-5.0Z" stroke="#f18889" stroke-width="1.0" fill="none"/>
<path d="M82.70 144.50V174.50M79.70 144.50H85.70M79.70 174.50H85.70" stroke="#2e2ea0" stroke-width="1.0" fill="none"/><circle cx="82.70" cy="156.50" r="2.5" stroke="#2e2ea0" stroke-width="1.0" fill="none"/><circle cx="82.70" cy="156.50" r="0.45" fill="#2e2ea0"/><path d="M99.10 128.50V154.50M96.10 128.50H102.10M96.10 154.50H102.10" stroke="#2e2ea0" stroke-width="1.0" fill="none"/><circle cx="99.10" cy="138.10" r="2.5" stroke="#2e2ea0" stroke-width="1.0" fill="none"/><circle cx="99.10" cy="138.10" r="0.45" fill="#2e2ea0"/><path d="M121.00 110.50V124.50M118.00 110.50H124.00M118.00 124.50H124.00" stroke="#2e2ea0" stroke-width="1.0" fill="none"/><circle cx="121.00" cy="118.00" r="2.5" stroke="#2e2ea0" stroke-width="1.0" fill="none"/><circle cx="121.00" cy="118.00" r="0.45" fill="#2e2ea0"/><path d="M151.60 105.50V115.50M148.60 105.50H154.60M148.60 115.50H154.60" stroke="#2e2ea0" stroke-width="1.0" fill="none"/><circle cx="151.60" cy="110.00" r="2.5" stroke="#2e2ea0" stroke-width="1.0" fill="none"/><circle cx="151.60" cy="110.00" r="0.45" fill="#2e2ea0"/><path d="M198.04 99.50V110.50M195.04 99.50H201.04M195.04 110.50H201.04" stroke="#2e2ea0" stroke-width="1.0" fill="none"/><circle cx="198.04" cy="104.00" r="2.5" stroke="#2e2ea0" stroke-width="1.0" fill="none"/><circle cx="198.04" cy="104.00" r="0.45" fill="#2e2ea0"/><path d="M80.50 171.50V201.50M77.50 171.50H83.50M77.50 201.50H83.50" stroke="#2a2adf" stroke-width="1.0" fill="none"/><path d="M80.50 181.10L83.40 184.00L80.50 186.90L77.60 184.00Z" stroke="#2a2adf" stroke-width="1.0" fill="none"/><circle cx="80.50" cy="184.00" r="0.45" fill="#2a2adf"/><path d="M97.00 154.50V181.50M94.00 154.50H100.00M94.00 181.50H100.00" stroke="#2a2adf" stroke-width="1.0" fill="none"/><path d="M97.00 161.40L99.90 164.30L97.00 167.20L94.10 164.30Z" stroke="#2a2adf" stroke-width="1.0" fill="none"/><circle cx="97.00" cy="164.30" r="0.45" fill="#2a2adf"/><path d="M119.40 137.50V151.50M116.40 137.50H122.40M116.40 151.50H122.40" stroke="#2a2adf" stroke-width="1.0" fill="none"/><path d="M119.40 141.50L122.30 144.40L119.40 147.30L116.50 144.40Z" stroke="#2a2adf" stroke-width="1.0" fill="none"/><circle cx="119.40" cy="144.40" r="0.45" fill="#2a2adf"/><path d="M149.60 132.50V143.50M146.60 132.50H152.60M146.60 143.50H152.60" stroke="#2a2adf" stroke-width="1.0" fill="none"/><path d="M149.60 135.50L152.50 138.40L149.60 141.30L146.70 138.40Z" stroke="#2a2adf" stroke-width="1.0" fill="none"/><circle cx="149.60" cy="138.40" r="0.45" fill="#2a2adf"/><path d="M195.60 126.50V138.50M192.60 126.50H198.60M192.60 138.50H198.60" stroke="#2a2adf" stroke-width="1.0" fill="none"/><path d="M195.60 128.60L198.50 131.50L195.60 134.40L192.70 131.50Z" stroke="#2a2adf" stroke-width="1.0" fill="none"/><circle cx="195.60" cy="131.50" r="0.45" fill="#2a2adf"/><path d="M84.80 223.50V259.50M81.80 223.50H87.80M81.80 259.50H87.80" stroke="#4a72e2" stroke-width="1.0" fill="none"/><path d="M82.20 237.80L87.40 243.00M82.20 243.00L87.40 237.80" stroke="#4a72e2" stroke-width="0.95" fill="none"/><path d="M101.40 219.50V243.50M98.40 219.50H104.40M98.40 243.50H104.40" stroke="#4a72e2" stroke-width="1.0" fill="none"/><path d="M98.80 225.90L104.00 231.10M98.80 231.10L104.00 225.90" stroke="#4a72e2" stroke-width="0.95" fill="none"/><path d="M123.10 197.50V216.50M120.10 197.50H126.10M120.10 216.50H126.10" stroke="#4a72e2" stroke-width="1.0" fill="none"/><path d="M120.50 203.90L125.70 209.10M120.50 209.10L125.70 203.90" stroke="#4a72e2" stroke-width="0.95" fill="none"/><path d="M153.60 184.50V192.50M150.60 184.50H156.60M150.60 192.50H156.60" stroke="#4a72e2" stroke-width="1.0" fill="none"/><path d="M151.00 186.00L156.20 191.20M151.00 191.20L156.20 186.00" stroke="#4a72e2" stroke-width="0.95" fill="none"/><path d="M199.70 180.50V193.50M196.70 180.50H202.70M196.70 193.50H202.70" stroke="#4a72e2" stroke-width="1.0" fill="none"/><path d="M197.10 183.40L202.30 188.60M197.10 188.60L202.30 183.40" stroke="#4a72e2" stroke-width="0.95" fill="none"/>
</g>
<rect x="302.00" y="207.00" width="5.0" height="5.0" fill="#e31a1c"/><path d="M331.00 207.10L334.00 212.50H328.00Z" stroke="#ff2a1a" stroke-width="0.9" fill="none" stroke-linejoin="miter"/><circle cx="331.0" cy="210.2" r="0.45" fill="#ff2a1a"/><path d="M346.50 206.50h5.0v5.0h-5.0Z" stroke="#f18889" stroke-width="1.0" fill="none"/><circle cx="349.0" cy="209.0" r="0.45" fill="#f18889"/><circle cx="305.00" cy="231.00" r="2.5" stroke="#2e2ea0" stroke-width="1.0" fill="none"/><circle cx="305.00" cy="231.00" r="0.45" fill="#2e2ea0"/><path d="M331.00 228.10L333.90 231.00L331.00 233.90L328.10 231.00Z" stroke="#2a2adf" stroke-width="1.0" fill="none"/><circle cx="331.00" cy="231.00" r="0.45" fill="#2a2adf"/><path d="M346.80 228.40L352.00 233.60M346.80 233.60L352.00 228.40" stroke="#4a72e2" stroke-width="0.95" fill="none"/>
<path d="M88.47 250.0v-6.5M88.47 28.7v6.5M149.22 250.0v-6.5M149.22 28.7v6.5M209.96 250.0v-6.5M209.96 28.7v6.5M270.70 250.0v-6.5M270.70 28.7v6.5M331.45 250.0v-6.5M331.45 28.7v6.5M74.0 237.02h3.3M370.3 237.02h-3.3M74.0 227.80h3.3M370.3 227.80h-3.3M74.0 220.65h3.3M370.3 220.65h-3.3M74.0 214.81h3.3M370.3 214.81h-3.3M74.0 209.87h3.3M370.3 209.87h-3.3M74.0 205.60h3.3M370.3 205.60h-3.3M74.0 201.82h3.3M370.3 201.82h-3.3M74.0 198.45h6.5M370.3 198.45h-6.5M74.0 176.24h3.3M370.3 176.24h-3.3M74.0 163.25h3.3M370.3 163.25h-3.3M74.0 154.03h3.3M370.3 154.03h-3.3M74.0 146.88h3.3M370.3 146.88h-3.3M74.0 141.04h3.3M370.3 141.04h-3.3M74.0 136.10h3.3M370.3 136.10h-3.3M74.0 131.83h3.3M370.3 131.83h-3.3M74.0 128.05h3.3M370.3 128.05h-3.3M74.0 124.68h6.5M370.3 124.68h-6.5M74.0 102.47h3.3M370.3 102.47h-3.3M74.0 89.48h3.3M370.3 89.48h-3.3M74.0 80.26h3.3M370.3 80.26h-3.3M74.0 73.11h3.3M370.3 73.11h-3.3M74.0 67.27h3.3M370.3 67.27h-3.3M74.0 62.33h3.3M370.3 62.33h-3.3M74.0 58.06h3.3M370.3 58.06h-3.3M74.0 54.28h3.3M370.3 54.28h-3.3M74.0 50.91h6.5M370.3 50.91h-6.5" stroke="#000" stroke-width="0.75" fill="none"/>
<rect x="74.0" y="28.7" width="296.3" height="221.3" fill="none" stroke="#000" stroke-width="1.6"/>
<text x="90.67" y="271.80" text-anchor="middle" font-size="15.7" >1</text><text x="151.41" y="271.80" text-anchor="middle" font-size="15.7" >1.5</text><text x="212.16" y="271.80" text-anchor="middle" font-size="15.7" >2</text><text x="272.90" y="271.80" text-anchor="middle" font-size="15.7" >2.5</text><text x="333.65" y="271.80" text-anchor="middle" font-size="15.7" >3</text><text x="62.80" y="56.51" text-anchor="end" font-size="15.7" >0.1</text><text x="62.80" y="130.28" text-anchor="end" font-size="15.7" >0.01</text><text x="62.80" y="204.05" text-anchor="end" font-size="15.7" >0.001</text><text x="207.3" y="291.6" font-size="15.7">T/T<tspan dy="4.9" font-size="13.2">c</tspan></text><text transform="translate(12.8,152.2) rotate(-90)" font-size="15.7">σ<tspan dy="5.2" font-size="12.8">i</tspan><tspan dy="-5.2">/T</tspan></text><text x="286.0" y="214.3" text-anchor="end" font-size="13.9">N<tspan dy="3.6" font-size="11">f</tspan><tspan dy="-3.6">=2+1</tspan></text><text x="287.00" y="235.10" text-anchor="end" font-size="14.3" >Lattice</text><text x="305.30" y="199.00" text-anchor="middle" font-size="12" >total</text><text x="331.50" y="199.00" text-anchor="middle" font-size="12" >l</text><text x="349.30" y="199.00" text-anchor="middle" font-size="12" >s</text>
</svg>
</body></html>
